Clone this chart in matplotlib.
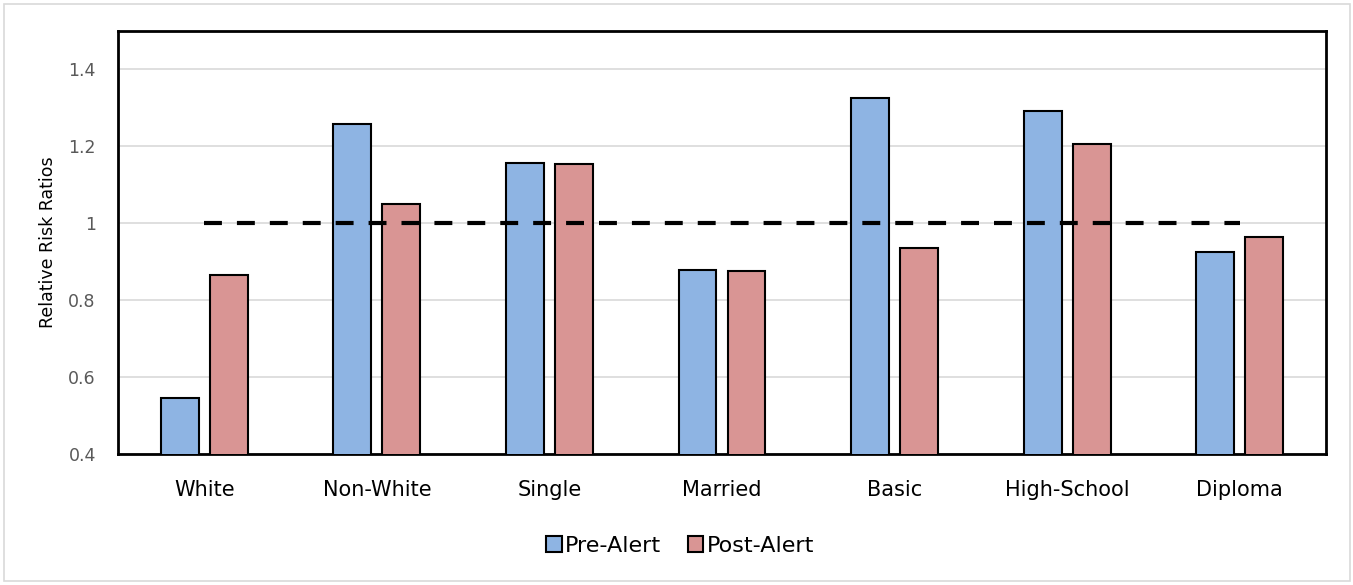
import numpy as np
import matplotlib.pyplot as plt
from matplotlib.patches import Rectangle

categories = ['White', 'Non-White', 'Single', 'Married', 'Basic', 'High-School', 'Diploma']
pre_alert = [0.545, 1.257, 1.158, 0.878, 1.327, 1.291, 0.925]
post_alert = [0.865, 1.049, 1.153, 0.875, 0.935, 1.205, 0.964]
reference = [1.0] * len(categories)

plt.rcParams['font.family'] = ['DejaVu Sans']

fig = plt.figure(figsize=(13.53, 5.85), dpi=100)
ax = fig.add_axes([118 / 1353, 1 - 454 / 585, (1326 - 118) / 1353, (454 - 31) / 585])

x = np.arange(len(categories))
w = 0.22
off = 0.142
ax.bar(x - off, pre_alert, w, bottom=0, color='#8EB4E3', edgecolor='black',
       linewidth=1.5, label='Pre-Alert', zorder=3)
ax.bar(x + off, post_alert, w, bottom=0, color='#D99594', edgecolor='black',
       linewidth=1.5, label='Post-Alert', zorder=3)
ax.plot(x, reference, color='black', linewidth=3, linestyle=(0, (4.3, 3.6)),
        zorder=4)

ax.set_xlim(-0.5, len(categories) - 0.5)
ax.set_ylim(0.4, 1.5)
ax.set_yticks([0.4, 0.6, 0.8, 1.0, 1.2, 1.4])
ax.set_yticklabels(['0.4', '0.6', '0.8', '1', '1.2', '1.4'])
ax.set_xticks(x)
ax.set_xticklabels(categories, fontsize=15, color='black')
ax.tick_params(axis='y', length=0, labelsize=12.5, labelcolor='#595959', pad=16)
ax.tick_params(axis='x', length=0, pad=19)
ax.grid(axis='y', color='#D9D9D9', linewidth=1.2, zorder=0)
for s in ax.spines.values():
    s.set_linewidth(2)
    s.set_color('black')
ax.set_ylabel('Relative Risk Ratios', fontsize=12.5, labelpad=8)

leg = fig.legend(loc='center', bbox_to_anchor=(680 / 1353, 1 - 546 / 585),
                 ncol=2, frameon=False, fontsize=16, handlelength=0.7,
                 handleheight=0.7, handletextpad=0.15, columnspacing=1.2)

# light frame around the whole chart
fig.patches.append(Rectangle((4 / 1353, 4 / 585), 1346 / 1353, 577 / 585,
                             transform=fig.transFigure, fill=False,
                             edgecolor='#D9D9D9', linewidth=1.2))

fig.savefig('out.png', dpi=100)
